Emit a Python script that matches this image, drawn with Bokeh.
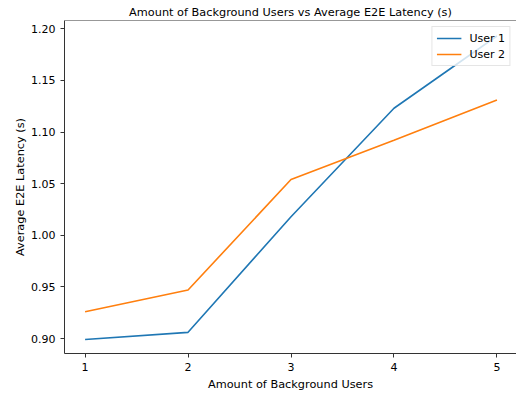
from bokeh.plotting import figure
from bokeh.models import Range1d, FixedTicker, NumeralTickFormatter, Legend, LegendItem, Span
from bokeh.embed import file_html
from bokeh.resources import INLINE

# Average end-to-end latency (s) per number of background users
background_users = [1, 2, 3, 4, 5]
user1_latency = [0.899, 0.906, 1.018, 1.123, 1.193]
user2_latency = [0.926, 0.947, 1.054, 1.092, 1.131]
y_ticks = [0.90, 0.95, 1.00, 1.05, 1.10, 1.15, 1.20]

FONT = "DejaVu Sans"
SPINE = "#333333"

y_top = 1.208
p = figure(
    width=516, height=393,
    output_backend="svg", toolbar_location=None,
    x_range=Range1d(0.8, 5.19), y_range=Range1d(0.8855, y_top),
    title="Amount of Background Users vs Average E2E Latency (s)",
    min_border_left=64, min_border_right=0, min_border_top=20, min_border_bottom=40,
)
p.background_fill_color = "white"
p.border_fill_color = "white"
p.outline_line_color = None
p.grid.visible = False

p.title.text_font = FONT
p.title.text_font_size = "11.3px"
p.title.text_font_style = "normal"
p.title.text_color = "black"
p.title.align = "center"
p.title.standoff = 3

for ax in (p.xaxis[0], p.yaxis[0]):
    ax.axis_line_color = SPINE
    ax.axis_line_width = 1
    ax.major_tick_line_color = SPINE
    ax.major_tick_in = 0
    ax.major_tick_out = 4
    ax.minor_tick_line_color = None
    ax.major_label_text_font = FONT
    ax.major_label_text_font_size = "11px"
    ax.major_label_text_color = "black"
    ax.axis_label_text_font = FONT
    ax.axis_label_text_font_size = "11.3px"
    ax.axis_label_text_font_style = "normal"
    ax.axis_label_text_color = "black"
    ax.major_label_standoff = 5

p.xaxis.ticker = FixedTicker(ticks=background_users)
p.xaxis.axis_label = "Amount of Background Users"
p.xaxis.axis_label_standoff = 4

p.yaxis.ticker = FixedTicker(ticks=y_ticks)
p.yaxis.formatter = NumeralTickFormatter(format="0.00")
p.yaxis.axis_label = "Average E2E Latency (s)"
p.yaxis.axis_label_standoff = 1

# top spine (the right side of the frame is left open)
p.add_layout(Span(location=y_top, dimension="width", line_color=SPINE, line_width=1))

r1 = p.line(background_users, user1_latency, line_color="#1f77b4", line_width=1.6)
r2 = p.line(background_users, user2_latency, line_color="#ff7f0e", line_width=1.6)

legend = Legend(
    items=[LegendItem(label="User 1", renderers=[r1]),
           LegendItem(label="User 2", renderers=[r2])],
    location="top_right",
    margin=6, padding=4, spacing=2,
    label_height=14, glyph_height=14, glyph_width=25, label_standoff=8,
    label_text_font=FONT, label_text_font_size="11px", label_text_color="black",
    border_line_color="#cccccc", border_line_width=1,
    background_fill_color="white", background_fill_alpha=0.8,
)
p.add_layout(legend)

open("out.html", "w").write(file_html(p, INLINE))
